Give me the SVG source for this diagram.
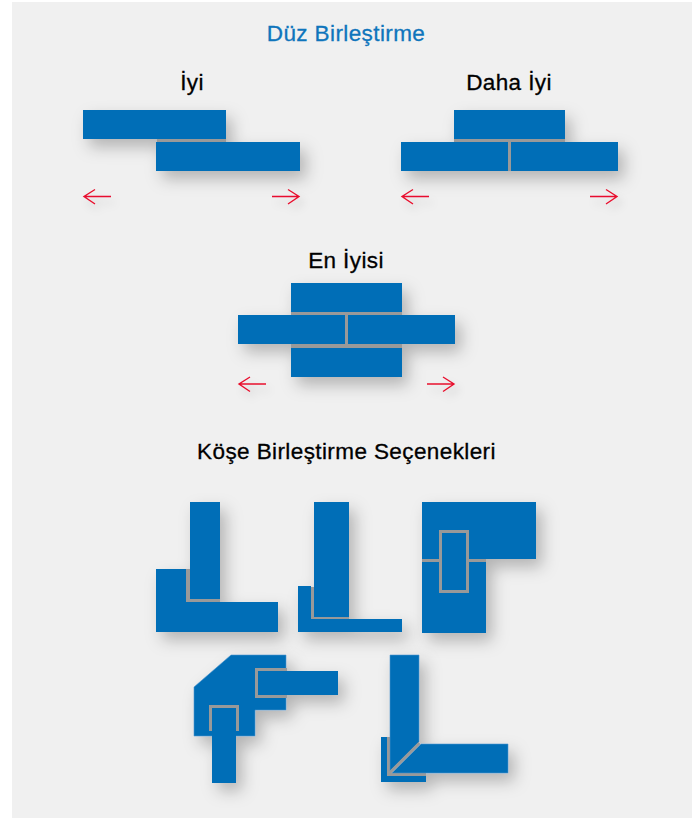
<svg xmlns="http://www.w3.org/2000/svg" width="696" height="818" viewBox="0 0 696 818">
<style>
.b{fill:#006eb7}
.e{stroke:#4f96cc;stroke-width:.6}
.g{fill:#999}
.gs{fill:none;stroke:#999;stroke-width:3}
.t{font-family:"Liberation Sans",Arial,sans-serif;font-size:22.500px;letter-spacing:.4px;fill:#000;text-anchor:middle;stroke:#000;stroke-width:.3}
.h{fill:#0f75bc;stroke:#0f75bc}
.a{fill:none;stroke:#e8112d;stroke-width:1.4}
</style>
<defs>
<filter id="s" x="-40%" y="-40%" width="190%" height="190%"><feDropShadow dx="6" dy="8" stdDeviation="8" flood-color="#000" flood-opacity=".25"/></filter>
<filter id="sa" x="-30%" y="-100%" width="170%" height="400%"><feDropShadow dx="4" dy="6" stdDeviation="4" flood-color="#000" flood-opacity=".14"/></filter>
<path id="al" d="M111 196.500H84M95 189.500L84 196.500L95 204" class="a"/>
</defs>
<rect width="696" height="818" fill="#fff"/>
<rect x="12" y="2" width="680" height="816" fill="#f0f0f0"/>
<text class="t h" x="346" y="41">Düz Birleştirme</text>
<text class="t" x="192" y="90">İyi</text>
<text class="t" x="509" y="90">Daha İyi</text>
<text class="t" x="346" y="268">En İyisi</text>
<text class="t" x="346.500" y="459">Köşe Birleştirme Seçenekleri</text>
<g id="iyi">
<g filter="url(#s)"><rect class="b" x="83" y="110" width="143" height="29"/><rect class="g" x="157" y="139" width="69" height="3"/><rect class="b" x="156" y="142" width="144" height="29"/></g>
</g>
<g id="daha-iyi">
<g filter="url(#s)"><rect class="b" x="454" y="110" width="111" height="29"/><rect class="g" x="454" y="139" width="111" height="3"/><rect class="b" x="401" y="142" width="107" height="29"/><rect class="g" x="508" y="142" width="3" height="29"/><rect class="b" x="511" y="142" width="107" height="29"/></g>
</g>
<g id="en-iyisi">
<g filter="url(#s)"><rect class="b" x="291" y="283" width="111" height="29"/><rect class="g" x="291" y="312" width="111" height="3"/><rect class="b" x="238" y="315" width="107" height="29"/><rect class="g" x="345" y="315" width="3" height="29"/><rect class="b" x="348" y="315" width="107" height="29"/><rect class="g" x="291" y="344" width="111" height="4"/><rect class="b" x="291" y="348" width="111" height="29"/></g>
</g>
<g id="connectors">
<g filter="url(#sa)"><use href="#al"/></g>
<g filter="url(#sa)"><path class="a" d="M272 196.500H299M288 189.500L299 196.500L288 204"/></g>
<g filter="url(#sa)"><use href="#al" x="318"/></g>
<g filter="url(#sa)"><path class="a" d="M590 196.500H617M606 189.500L617 196.500L606 204"/></g>
<g filter="url(#sa)"><use href="#al" x="155" y="187.500"/></g>
<g filter="url(#sa)"><path class="a" d="M427 384H454M443 377L454 384L443 391.500"/></g>
</g>
<g id="kose-1" filter="url(#s)">
<path class="b" d="M156 569H186V602H278V632H156Z"/>
<path class="g" d="M186 569H190V599H220V602H186Z"/>
<rect class="b" x="190" y="502" width="30" height="97"/>
</g>
<g id="kose-2" filter="url(#s)">
<path class="b" d="M298 586H311V619H402V632H298Z"/>
<path class="g" d="M311 587H314V617H349V619H311Z"/>
<rect class="b" x="314" y="502" width="35" height="115"/>
</g>
<g id="kose-3" filter="url(#s)">
<path class="b" d="M422 502H536V559H486V633H422Z"/>
<rect class="g" x="422" y="559" width="64" height="3"/>
<rect class="b" x="440.500" y="531.500" width="27" height="60"/>
<rect class="gs" x="440.500" y="531.500" width="27" height="60"/>
</g>
<g id="kose-4" filter="url(#s)">
<path class="b e" d="M194 687L231 655H286V710H255V736H194Z"/>
<path class="g" d="M255 668H287V671H258V695H287V698H255Z"/>
<rect class="b" x="258" y="671" width="80" height="24"/>
<path class="g" d="M209 731V705H239V731H236V708H212V731Z"/>
<rect class="b" x="212" y="708" width="24" height="75"/>
</g>
<g id="kose-5" filter="url(#s)">
<path class="b" d="M381 737H387V776H426V782H381Z"/>
<path class="g" d="M387 737H390V773H426V776H387Z"/>
<path class="b e" d="M390 655H419V742L390 771Z"/>
<path class="b e" d="M421 744H508V773H392Z"/>
<path d="M419.500 743L388 774.500" fill="none" stroke="#999" stroke-width="3"/>
</g>
</svg>
